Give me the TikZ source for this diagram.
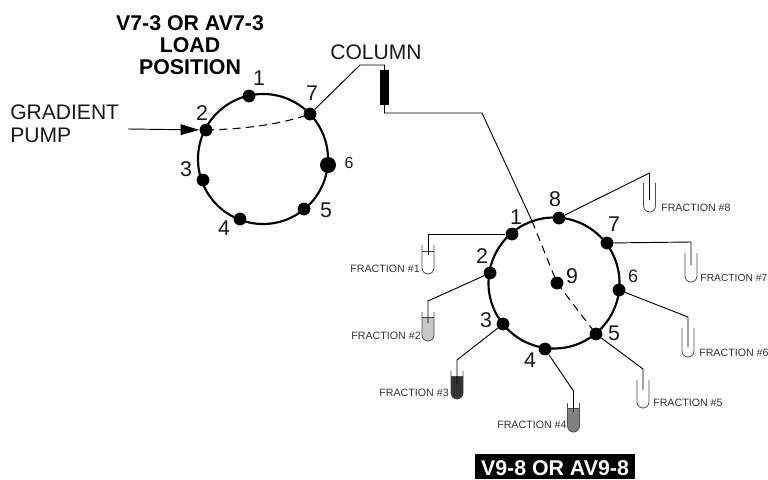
\documentclass[tikz,border=0pt]{standalone}
\usepackage{fontspec}
\setmainfont{Liberation Sans}
\usetikzlibrary{arrows.meta}
\newcommand{\tube}[6]{% name, cx, top, bottom, fill colour, level
  \fill[#5] (#2-6,#6) -- (#2-6,#4-6) arc[start angle=180,end angle=0,radius=6] -- (#2+6,#6) -- cycle;
  \draw[tubeline] (#2-6,#3) -- (#2-6,#4-6) arc[start angle=180,end angle=0,radius=6] -- (#2+6,#3);
  \draw[tubeline] (#2-6,#6) -- (#2+6,#6);
}
\newcommand{\tubeempty}[4]{% name, cx, top, bottom
  \draw[tubeline] (#2-6,#3) -- (#2-6,#4-6) arc[start angle=180,end angle=0,radius=6] -- (#2+6,#3);
}
\tikzset{
  x=0.75pt,y=-0.75pt,
  ring/.style={line width=1.6pt,draw=black},
  port/.style={circle,fill=black,inner sep=0pt,minimum size=9.6pt},
  bigport/.style={circle,fill=black,inner sep=0pt,minimum size=12pt},
  pipe/.style={line width=0.7pt,draw=black},
  flow/.style={line width=0.8pt,draw=black,dash pattern=on 6pt off 4pt},
  tubeline/.style={line width=0.6pt,draw=black!70},
  num/.style={inner sep=0pt,font=\fontsize{16}{16}\selectfont,text=black!90},
  smallnum/.style={inner sep=0pt,font=\fontsize{12}{12}\selectfont,text=black!90},
  midnum/.style={inner sep=0pt,font=\fontsize{13.5}{13.5}\selectfont,text=black!90},
  lab/.style={inner sep=0pt,font=\fontsize{15.8}{15.8}\selectfont,text=black!90},
  head/.style={inner sep=0pt,font=\fontsize{16}{16}\selectfont\bfseries,text=black},
  frac/.style={inner sep=0pt,font=\fontsize{8}{8}\selectfont,text=black!80},
}
\begin{document}
\begin{tikzpicture}
\useasboundingbox (0,0) rectangle (768,479);
% titles
\node[head] (t1) at (190,23) {V7-3 OR AV7-3};
\node[head] (t2) at (190,45) {LOAD};
\node[head] (t3) at (190,67) {POSITION};
\node[lab,anchor=west] (g1) at (10,112) {GRADIENT};
\node[lab,anchor=west] (g2) at (10,135) {PUMP};
\node[lab] (col) at (376,52) {COLUMN};
% left valve
\node[draw=none,inner sep=0pt,minimum size=0pt] (lc) at (263,159) {};
\draw[ring] (263,159) circle[radius=65];
\node[port] (a1) at (249,96) {};
\node[port] (a2) at (206,130) {};
\node[port] (a3) at (203,180) {};
\node[port] (a4) at (240,219) {};
\node[port] (a5) at (304,209) {};
\node[bigport] (a6) at (328,165) {};
\node[port] (a7) at (310,114) {};
\node[num] at (259,78) {1};
\node[num] at (202,113) {2};
\node[num] at (186,169) {3};
\node[num] at (224,228) {4};
\node[num] at (326,210) {5};
\node[smallnum] at (349,163) {6};
\node[num] at (312,93) {7};
\coordinate (pump) at (128,129);
\draw[pipe,-{Triangle[length=14pt,width=8pt]}] (pump) -- (a2);
\draw[flow] (a2.center) .. controls (250,129) and (285,123) .. (a7.center);
% column
\node[fill=black,inner sep=0pt,minimum width=6.8pt,minimum height=26pt] (colm) at (384.5,87.5) {};
\coordinate (c1) at (360,65);
\coordinate (c2) at (384.5,65);
\coordinate (c3) at (384.5,113);
\coordinate (c4) at (482,113);
\coordinate (c5) at (532,221);
\draw[pipe] (a7) -- (c1) -- (c2) -- (colm.north);
\draw[pipe] (colm.south) -- (c3) -- (c4) -- (c5);
% right valve
\node[inner sep=0pt] (rc) at (554,283) {};
\draw[ring] (554,283) circle[radius=65.5];
\node[port] (b1) at (512,234) {};
\node[port] (b2) at (490,273) {};
\node[port] (b3) at (503,324) {};
\node[port] (b4) at (545,349) {};
\node[port] (b5) at (596,334) {};
\node[port] (b6) at (619,290) {};
\node[port] (b7) at (607,243) {};
\node[port] (b8) at (559,218) {};
\node[port] (b9) at (557,283) {};
\draw[flow] (c5) -- (b9.center);
\draw[flow] (b9.center) -- (b5.center);
\node[num] at (516,217) {1};
\node[num] at (482,256) {2};
\node[num] at (486,320) {3};
\node[num] at (530,360) {4};
\node[num] at (614,333) {5};
\node[midnum] at (633,276) {6};
\node[num] at (614,224) {7};
\node[num] at (555,199) {8};
\node[num] at (572,276) {9};
% tubes
\tube{f1}{428}{245}{274}{white}{251}
\tube{f2}{428}{312}{341}{black!22}{317}
\tube{f3}{457}{371}{399}{black!80}{376}
\tube{f4}{573.5}{403}{432}{black!50}{408}
\tubeempty{f5}{643}{380}{408}
\tubeempty{f6}{688}{328}{357}
\tubeempty{f7}{691}{253}{282}
\tubeempty{f8}{649.5}{183}{212}
% connectors to tubes
\coordinate (k1) at (428,234); \coordinate (e1) at (428,255);
\coordinate (k2) at (428,301); \coordinate (e2) at (428,323);
\coordinate (k3) at (457,360); \coordinate (e3) at (457,384);
\coordinate (k4) at (573.5,391); \coordinate (e4) at (573.5,412);
\coordinate (k5) at (643,369); \coordinate (e5) at (643,390);
\coordinate (k6) at (688,317); \coordinate (e6) at (688,347);
\coordinate (k7) at (691,242); \coordinate (e7) at (691,265);
\coordinate (k8) at (649.5,173); \coordinate (e8) at (649.5,200);
\draw[pipe] (b1) -- (k1) -- (e1);
\draw[pipe] (b2) -- (k2) -- (e2);
\draw[pipe] (b3) -- (k3) -- (e3);
\draw[pipe] (b4) -- (k4) -- (e4);
\draw[pipe] (b5) -- (k5) -- (e5);
\draw[pipe] (b6) -- (k6) -- (e6);
\draw[pipe] (b7) -- (k7) -- (e7);
\draw[pipe] (b8) -- (k8) -- (e8);
% fraction labels
\node[frac,anchor=east] at (420,269) {FRACTION \#1};
\node[frac,anchor=east] at (421,336) {FRACTION \#2};
\node[frac,anchor=east] at (449,393) {FRACTION \#3};
\node[frac,anchor=west] at (497,425) {FRACTION \#4};
\node[frac,anchor=west] at (653,403) {FRACTION \#5};
\node[frac,anchor=west] at (699,353) {FRACTION \#6};
\node[frac,anchor=east,font=\fontsize{7.7}{7.7}\selectfont] at (767.5,278) {FRACTION \#7};
\node[frac,anchor=west] at (661,208) {FRACTION \#8};
% bottom banner
\fill[black] (475,454) rectangle (635,479);
\node[head,text=white] (ban) at (555,468.5) {V9-8 OR AV9-8};
\end{tikzpicture}
\end{document}
